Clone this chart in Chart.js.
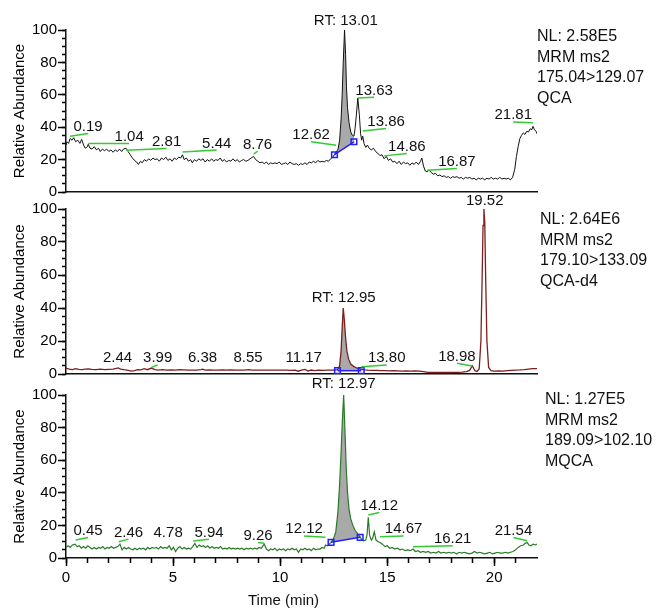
<!DOCTYPE html>
<html>
<head>
<meta charset="utf-8">
<script src="https://cdn.jsdelivr.net/npm/chart.js@4.4.0/dist/chart.umd.min.js"></script>
<style>
  body { margin: 0; background: #fff; }
  #wrap { position: relative; width: 658px; height: 608px; overflow: hidden; }
  #wrap canvas { position: absolute; left: 0; }
</style>
</head>
<body>
<div id="wrap">
  <canvas id="qcaChart" width="658" height="202" style="top:0px"></canvas>
  <canvas id="d4Chart" width="658" height="189" style="top:195px"></canvas>
  <canvas id="mqcaChart" width="658" height="236" style="top:372px"></canvas>
</div>
<script>
// ---- QCA trace (top, black) ----
const qcaTime = [
  0.00,0.05,0.12,0.19,0.28,0.36,0.45,0.55,0.65,0.73,
  0.82,0.90,1.00,1.04,1.12,1.22,1.32,1.42,1.52,1.60,
  1.70,1.80,1.90,2.00,2.10,2.20,2.30,2.40,2.50,2.60,
  2.68,2.81,2.90,3.00,3.10,3.20,3.30,3.38,3.48,3.56,
  3.66,3.76,3.86,3.96,4.06,4.16,4.26,4.36,4.46,4.56,
  4.66,4.76,4.86,4.96,5.06,5.16,5.26,5.36,5.44,5.52,
  5.62,5.72,5.82,5.90,6.00,6.10,6.20,6.30,6.40,6.50,
  6.60,6.70,6.80,6.90,7.00,7.10,7.20,7.30,7.40,7.50,
  7.60,7.70,7.80,7.90,8.00,8.10,8.20,8.30,8.40,8.50,
  8.60,8.76,8.86,8.96,9.06,9.16,9.26,9.36,9.46,9.56,
  9.66,9.76,9.86,9.96,10.06,10.16,10.26,10.36,10.46,10.56,
  10.66,10.76,10.86,10.96,11.06,11.16,11.26,11.36,11.46,11.56,
  11.66,11.76,11.86,11.96,12.06,12.16,12.26,12.36,12.46,12.54,
  12.62,12.70,12.78,12.85,12.90,12.95,13.01,13.06,13.10,13.15,
  13.22,13.30,13.38,13.45,13.50,13.56,13.63,13.70,13.76,13.81,
  13.86,13.92,14.00,14.08,14.16,14.26,14.36,14.46,14.56,14.66,
  14.76,14.86,14.96,15.06,15.16,15.26,15.36,15.46,15.56,15.66,
  15.76,15.86,15.96,16.06,16.16,16.26,16.36,16.46,16.56,16.62,
  16.70,16.78,16.87,16.96,17.06,17.16,17.26,17.36,17.46,17.56,
  17.66,17.76,17.86,17.96,18.06,18.16,18.26,18.36,18.46,18.56,
  18.66,18.76,18.86,18.96,19.06,19.16,19.26,19.36,19.46,19.56,
  19.66,19.76,19.86,19.96,20.06,20.16,20.26,20.36,20.46,20.56,
  20.66,20.76,20.86,20.96,21.04,21.12,21.20,21.28,21.36,21.44,
  21.52,21.60,21.68,21.76,21.81,21.88,21.95,22.00
];
const qcaAbund = [
  29,31,30,33,32,33.5,31,32,30,32.5,
  29,27,28,29.5,27,26.5,28,26,27,25,
  26.5,25.5,26.5,25,26,24.5,26,25,26.5,25,
  26.5,27,25,23,21,19.5,18.5,17,19,18,
  20,19,20.5,19.5,21,20,20.5,19,21,20,
  21.5,19.5,20.5,19,21,20,21.5,21,23,20,
  21,19,20,18,20,19,20.5,19.5,20.5,18.5,
  20,19,20.5,19,20,19.5,21,19,20,18.5,
  19.5,19,20.5,19,20,18.5,19.5,20,19,19.5,
  20.5,22,20,19,18,18.5,17.5,18.5,17,18,
  17.5,18,17.5,18.5,17,17.5,18,17,18.5,17.5,
  17,17.5,16.5,17.5,17,18,17,18.5,18,19,
  18,19.5,18.5,19,18.5,19.5,19,20.5,21.5,23,
  25,26,32,45,60,80,100,85,65,52,
  43,37,35,34.5,39,47,58,48,36,32,
  34.5,30,27.5,29,27,26,27,25,24,22.5,
  23,20.5,22,19.5,20.5,18.5,19,17.5,19,17,
  18.5,17.5,18,16.5,18,17,18.5,17,19,21,
  16,13,12.5,13.5,12,11,11.5,10,10.5,9.5,
  10,9,9.5,8.5,9.5,9,9.5,8.5,9,8,
  9,8.5,9,8,8.5,7.5,8.5,8,8.5,7.5,
  8.5,8,9,8,8.5,8,9,8,8.5,8,
  8.5,7.5,9,14,22,28,33,35,36.5,35.5,
  37.5,37,39,38.5,40.5,38.5,37.5,36
];
const qcaBaseTime = [12.54, 13.45];
const qcaBaseAbund = [23, 31];
const qcaPeakText = ['RT: 13.01','0.19','1.04','2.81','5.44','8.76','12.62','13.63','13.86','14.86','16.87','21.81'];
const qcaPeakTextTime = [13.07,1.03,2.95,4.7,7.04,8.95,11.45,14.39,14.95,15.92,18.26,20.89];
const qcaPeakTextAbund = [103,37.6,31.5,28.4,27.4,26.8,32.5,60.1,40.7,25.3,16.1,44.8];
const qcaPeakLineAbund = [null,34.4,29.9,25.8,24.7,23.3,28.8,58,37.6,22.3,13.5,42.8];
const qcaInfo = ['NL: 2.58E5','MRM ms2','175.04>129.07','QCA'];

// ---- QCA-d4 trace (middle, dark red) ----
const d4Time = [
  0.00,0.15,0.30,0.45,0.60,0.75,0.90,1.05,1.20,1.40,
  1.60,1.80,2.00,2.20,2.35,2.44,2.55,2.70,2.90,3.05,
  3.20,3.35,3.50,3.65,3.80,3.99,4.15,4.30,4.50,4.70,
  4.90,5.10,5.30,5.50,5.70,5.90,6.10,6.30,6.38,6.50,
  6.70,6.90,7.10,7.30,7.50,7.70,7.90,8.10,8.30,8.55,
  8.70,8.90,9.10,9.30,9.50,9.70,9.90,10.10,10.30,10.50,
  10.70,10.85,11.00,11.17,11.30,11.45,11.60,11.80,12.00,12.20,
  12.40,12.55,12.68,12.78,12.85,12.90,12.95,13.00,13.06,13.12,
  13.20,13.30,13.45,13.60,13.79,13.95,14.10,14.30,14.50,14.70,
  14.90,15.10,15.30,15.50,15.70,15.90,16.10,16.30,16.50,16.70,
  16.90,17.10,17.30,17.50,17.70,17.90,18.10,18.30,18.50,18.70,
  18.85,18.98,19.10,19.20,19.30,19.38,19.44,19.48,19.52,19.56,
  19.60,19.66,19.74,19.85,20.00,20.20,20.40,20.60,20.80,21.00,
  21.20,21.40,21.60,21.80,22.00
];
const d4Abund = [
  3.6,3.0,2.7,3.2,2.8,2.6,2.9,3.1,2.8,2.7,
  2.9,2.7,2.8,2.9,3.4,3.7,3.0,2.6,2.2,1.8,
  2.0,2.6,2.5,3.2,2.6,3.6,2.7,2.4,2.6,2.4,
  2.5,2.4,2.6,2.5,2.4,2.3,2.4,2.6,2.9,2.3,
  2.5,2.4,2.3,2.5,2.4,2.5,2.3,2.4,2.3,2.6,
  2.3,2.4,2.3,2.4,2.3,2.4,2.3,2.4,2.3,2.2,
  2.4,1.7,2.3,2.8,1.8,2.4,2.0,2.3,2.2,2.4,
  2.3,2.4,2.6,5,14,28,40,33,22,14,
  9,6,4.5,3.5,2.8,2.5,2.3,2.2,2.2,2.0,
  2.1,1.9,2.0,1.9,1.8,1.9,1.8,1.9,1.7,1.4,
  1.0,0.9,0.9,0.9,0.9,0.9,1.0,1.0,1.1,1.4,
  2.2,5,2.0,1.5,3,20,60,90,100,92,
  60,20,4,2.0,1.8,1.9,1.8,2.0,2.2,2.4,
  2.5,2.7,3.0,3.3,3.2
];
const d4BaseTime = [12.68, 13.79];
const d4BaseAbund = [2.0, 2.0];
const d4PeakText = ['RT: 12.95','2.44','3.99','6.38','8.55','11.17','13.80','18.98','19.52'];
const d4PeakTextTime = [12.97,2.41,4.28,6.38,8.5,11.1,14.98,18.26,19.56];
const d4PeakTextAbund = [43.4,7,7,7,7,7,7,8,102.4];
const d4PeakLineAbund = [null,null,4,null,null,null,4.4,4.8,null];
const d4Info = ['NL: 2.64E6','MRM ms2','179.10>133.09','QCA-d4'];

// ---- MQCA trace (bottom, green) ----
const mqcaTime = [
  0.00,0.10,0.20,0.30,0.42,0.52,0.62,0.72,0.82,0.92,
  1.02,1.12,1.22,1.32,1.42,1.52,1.62,1.72,1.82,1.92,
  2.02,2.12,2.22,2.32,2.42,2.52,2.62,2.72,2.82,2.92,
  3.02,3.12,3.22,3.32,3.42,3.52,3.62,3.72,3.82,3.92,
  4.02,4.12,4.22,4.32,4.42,4.52,4.62,4.72,4.82,4.92,
  5.02,5.12,5.22,5.32,5.42,5.52,5.62,5.72,5.82,5.92,
  6.02,6.12,6.22,6.32,6.42,6.52,6.62,6.72,6.82,6.92,
  7.02,7.12,7.22,7.32,7.42,7.52,7.62,7.72,7.82,7.92,
  8.02,8.12,8.22,8.32,8.42,8.52,8.62,8.72,8.82,8.92,
  9.02,9.12,9.26,9.36,9.46,9.56,9.66,9.76,9.86,9.96,
  10.06,10.16,10.26,10.36,10.46,10.56,10.66,10.76,10.86,10.96,
  11.06,11.16,11.26,11.36,11.46,11.56,11.66,11.76,11.86,11.96,
  12.06,12.12,12.22,12.30,12.38,12.50,12.60,12.70,12.78,12.85,
  12.91,12.97,13.03,13.09,13.15,13.22,13.30,13.40,13.50,13.62,
  13.74,13.82,13.92,14.00,14.06,14.12,14.18,14.26,14.32,14.40,
  14.48,14.58,14.67,14.78,14.90,15.00,15.12,15.24,15.36,15.48,
  15.60,15.72,15.84,15.96,16.08,16.21,16.32,16.44,16.56,16.68,
  16.80,16.92,17.04,17.16,17.28,17.40,17.52,17.64,17.76,17.88,
  18.00,18.12,18.24,18.36,18.48,18.60,18.72,18.84,18.96,19.08,
  19.20,19.32,19.44,19.56,19.68,19.80,19.92,20.04,20.16,20.28,
  20.40,20.52,20.64,20.76,20.88,21.00,21.12,21.24,21.36,21.45,
  21.54,21.62,21.72,21.82,21.92,22.00
];
const mqcaAbund = [
  6.5,7.5,6.5,8,8.5,7,7.5,6,7,6,
  7.5,6.5,5.5,6.5,5.5,6.5,6,7,5.5,6.5,
  6,7,6,6.5,7,8.5,5,6.5,5.5,6.5,
  5.5,5,6,5,6,5.5,6,5,6.5,5.5,
  6.5,6,6.5,5.5,7,6,6.5,6,7.5,5,
  6.5,4,6,7,5.5,6.5,5.5,6,5.5,7,
  9,6.5,8,7,7.5,6.5,7.5,6,7,6,
  6.5,6,7,5.5,6,5.5,6.5,5.5,6,5.5,
  6,5.5,6,5,6,5.5,6,5.5,6,5.5,
  6.5,6,8.5,5.5,4.5,5.5,5,6,4.5,5.5,
  5,5.5,4.5,5.5,5,6,5,5.5,3.5,5.5,
  5,6,5,5.5,4.5,6,5,5.5,5.5,6.5,
  6,8,7.5,8.5,9.6,12,16,28,45,65,
  85,100,78,55,40,30,24,20,17,15,
  13,11,10.5,11,14,25,14,11,12,16,
  11,10,9.5,8.5,7,7.5,6,6.5,5.5,6,
  5,5.5,4.5,5,4.5,5.5,4,4.5,3.5,4,
  3.5,4,3,3.5,3,4,3,3.5,3,3.5,
  3,3.5,2.5,3.5,3,3.5,3,2.5,3,4,
  3,3.5,3,2.5,3,3.5,2.5,3,3.5,3,
  3,3.5,3,3.5,4,5,6.5,7.5,8,9,
  9.5,8,7.5,8.5,8,8.5
];
const mqcaBaseTime = [12.38, 13.74];
const mqcaBaseAbund = [9.6, 12.7];
const mqcaPeakText = ['RT: 12.97','0.45','2.46','4.78','5.94','9.26','12.12','14.12','14.67','16.21','21.54'];
const mqcaPeakTextTime = [12.97,1.03,2.92,4.77,6.68,8.97,11.12,14.63,15.77,18.06,20.9];
const mqcaPeakTextAbund = [104,14.1,13.1,13.1,13.1,11,15.1,29.4,15.1,9,14.1];
const mqcaPeakLineAbund = [null,11,10,null,10.4,9,12.7,26.4,13,6.9,10.6];
const mqcaInfo = ['NL: 1.27E5','MRM ms2','189.09>102.10','MQCA'];

const FONT = '"Liberation Sans", Arial, sans-serif';
Chart.defaults.font.family = FONT;
Chart.defaults.color = '#000';

// labels above peaks, the NL block on the right, and the time title
function peakLabels(p) {
  return {
    id: 'peakLabels',
    afterDatasetsDraw(chart) {
      const {ctx, chartArea, scales: {x, y}} = chart;
      ctx.save();
      ctx.font = '15px ' + FONT;
      ctx.textAlign = 'center';
      ctx.textBaseline = 'alphabetic';
      p.text.forEach((s, i) => {
        const tx = x.getPixelForValue(p.textTime[i]);
        const ty = y.getPixelForValue(p.textAbund[i]);
        if (p.lineAbund[i] !== null) {
          ctx.strokeStyle = '#35c935';
          ctx.lineWidth = 1.5;
          ctx.beginPath();
          ctx.moveTo(x.getPixelForValue(parseFloat(s)), y.getPixelForValue(p.lineAbund[i]));
          ctx.lineTo(tx, ty + 2.5);
          ctx.stroke();
        }
        ctx.fillStyle = '#111';
        ctx.fillText(s, tx, ty);
      });

      ctx.font = '16px ' + FONT;
      ctx.textAlign = 'left';
      ctx.textBaseline = 'middle';
      p.info.forEach((s, i) => {
        ctx.fillText(s, chartArea.right + p.infoDx, chartArea.top + p.infoDy + i * 20.5);
      });

      if (p.timeTitle) {
        ctx.font = '15px ' + FONT;
        ctx.textAlign = 'center';
        ctx.fillText('Time (min)', (chartArea.left + chartArea.right) / 2 - 18, chart.height - 7);
      }
      ctx.restore();
    }
  };
}

function makePanel(id, p) {
  const pts = p.time.map((t, i) => ({x: t, y: p.abund[i]}));
  const seg = pts.filter(d => d.x >= p.baseTime[0] && d.x <= p.baseTime[1]);
  const base = p.baseTime.map((t, i) => ({x: t, y: p.baseAbund[i]}));
  const tickFont = {size: 15, family: FONT};

  return new Chart(document.getElementById(id), {
    type: 'line',
    data: {
      datasets: [
        {data: pts, borderColor: p.color, borderWidth: p.lineWidth, pointRadius: 0, fill: false, order: 1},
        {data: seg, borderColor: 'rgba(0,0,0,0)', borderWidth: 0, pointRadius: 0,
         backgroundColor: '#a9a9a9', fill: '+1', order: 2},
        {data: base, borderColor: '#2020ff', borderWidth: 1.5, pointStyle: 'rect', pointRadius: 4,
         pointBorderColor: '#2020ff', pointBackgroundColor: 'rgba(0,0,0,0)', pointBorderWidth: 1.5,
         fill: false, order: 0}
      ]
    },
    options: {
      responsive: false,
      animation: false,
      devicePixelRatio: 1,
      events: [],
      layout: {padding: {top: p.padTop, bottom: p.padBottom, left: 0, right: 121}},
      plugins: {legend: {display: false}, tooltip: {enabled: false}},
      scales: {
        x: {
          type: 'linear', min: 0, max: 22, position: 'bottom', weight: 1,
          ticks: {display: p.showX, stepSize: 5, font: tickFont, color: '#000', padding: 3, maxRotation: 0, autoSkip: false},
          afterBuildTicks: s => { s.ticks = s.ticks.filter(t => t.value % 5 === 0); },
          grid: {display: p.showX, drawOnChartArea: false, tickLength: 8, tickColor: '#000', tickWidth: 1.5},
          border: {display: true, color: '#111', width: 1.5},
          afterFit: s => { s.height = p.xHeight; }
        },
        xMinor: {
          type: 'linear', min: 0, max: 22, position: 'bottom', weight: 0, display: p.showX,
          ticks: {display: false, stepSize: 1, autoSkip: false},
          afterBuildTicks: s => { s.ticks = s.ticks.filter(t => t.value < 22); },
          grid: {drawOnChartArea: false, tickLength: 5, tickColor: '#000', tickWidth: 1.5},
          border: {display: false},
          afterFit: s => { s.height = 0; }
        },
        y: {
          type: 'linear', min: 0, max: 100, position: 'left', weight: 1,
          ticks: {stepSize: 20, font: tickFont, color: '#000', padding: 1, autoSkip: false},
          grid: {drawOnChartArea: false, tickLength: 8, tickColor: '#000', tickWidth: 1.5},
          border: {display: true, color: '#111', width: 1.5},
          title: {display: true, text: 'Relative Abundance', color: '#000',
                  font: {size: 15, family: FONT, lineHeight: 1.2}, padding: {top: 11, bottom: 0}},
          afterFit: s => { s.width = 66; }
        },
        yMinor: {
          type: 'linear', min: 0, max: 100, position: 'left', weight: 0,
          ticks: {display: false, stepSize: 5, autoSkip: false},
          grid: {drawOnChartArea: false, tickLength: 4, tickColor: '#000', tickWidth: 1.5},
          border: {display: false},
          afterFit: s => { s.width = 0; }
        }
      }
    },
    plugins: [peakLabels(p)]
  });
}

makePanel('qcaChart', {
  time: qcaTime, abund: qcaAbund, baseTime: qcaBaseTime, baseAbund: qcaBaseAbund,
  text: qcaPeakText, textTime: qcaPeakTextTime, textAbund: qcaPeakTextAbund, lineAbund: qcaPeakLineAbund,
  info: qcaInfo, infoDx: 0, infoDy: 7,
  color: '#111', lineWidth: 1, padTop: 30, padBottom: 9, showX: false, xHeight: 0, timeTitle: false
});
makePanel('d4Chart', {
  time: d4Time, abund: d4Abund, baseTime: d4BaseTime, baseAbund: d4BaseAbund,
  text: d4PeakText, textTime: d4PeakTextTime, textAbund: d4PeakTextAbund, lineAbund: d4PeakLineAbund,
  info: d4Info, infoDx: 3, infoDy: 11,
  color: '#7d1f1f', lineWidth: 1.3, padTop: 14, padBottom: 9, showX: false, xHeight: 0, timeTitle: false
});
makePanel('mqcaChart', {
  time: mqcaTime, abund: mqcaAbund, baseTime: mqcaBaseTime, baseAbund: mqcaBaseAbund,
  text: mqcaPeakText, textTime: mqcaPeakTextTime, textAbund: mqcaPeakTextAbund, lineAbund: mqcaPeakLineAbund,
  info: mqcaInfo, infoDx: 8, infoDy: 5,
  color: '#2a7a2a', lineWidth: 1.2, padTop: 23, padBottom: 0, showX: true, xHeight: 50, timeTitle: true
});
</script>
</body>
</html>
